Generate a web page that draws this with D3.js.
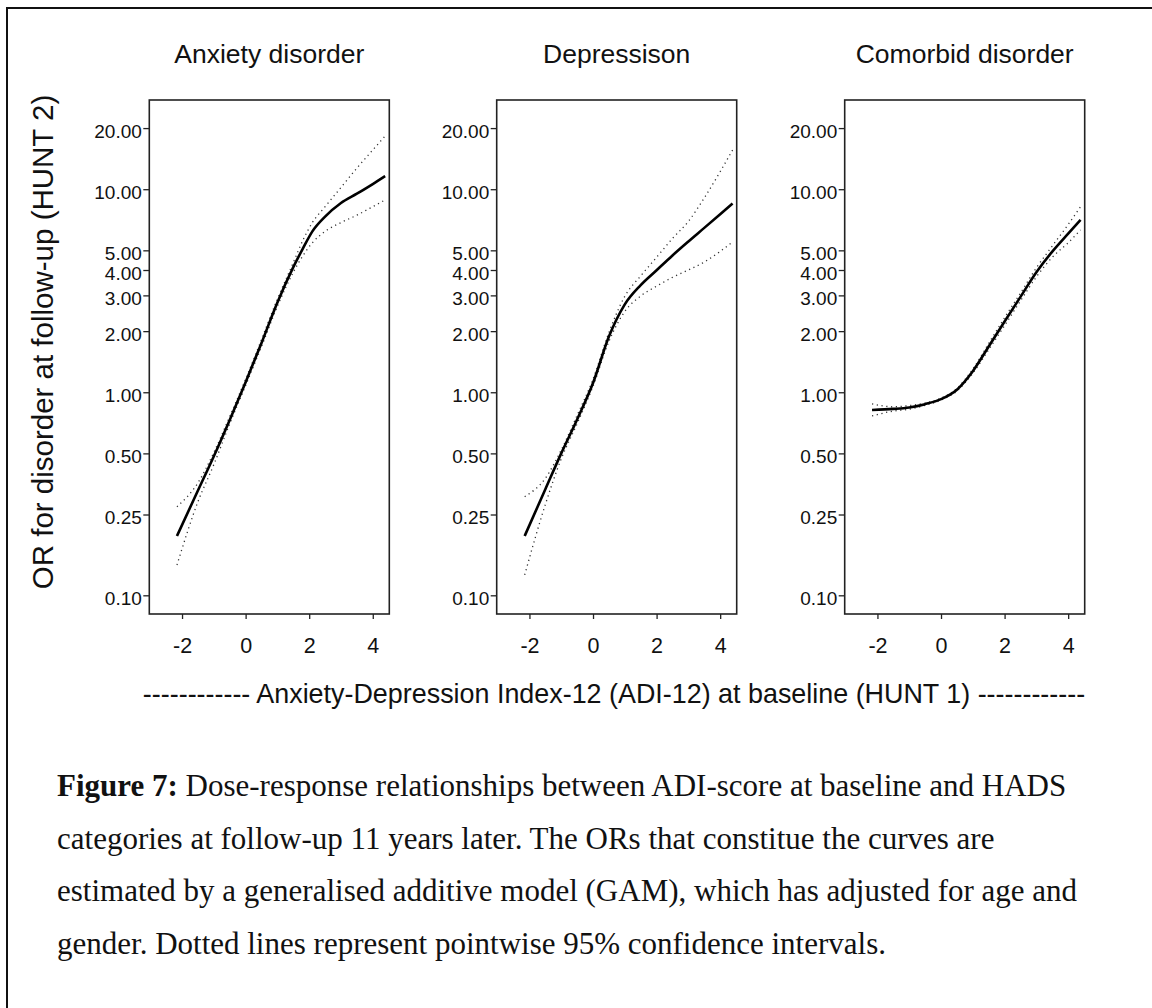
<!DOCTYPE html>
<html>
<head>
<meta charset="utf-8">
<script src="https://cdn.jsdelivr.net/npm/d3@7"></script>
<style>
  html, body { margin: 0; padding: 0; background: #fff; }
  svg { display: block; }
  .sans { font-family: Arial, "Liberation Sans", sans-serif; fill: #111; }
  .serif { font-family: "Times New Roman", "Liberation Serif", serif; fill: #111; }
</style>
</head>
<body>
<svg id="fig" width="1152" height="1008"></svg>
<script>
// Panel titles (spelling as printed)
const panelTitles = ["Anxiety disorder", "Depressison", "Comorbid disorder"];

// Axis ticks
const xTicks = [-2, 0, 2, 4];
const yTicks = [0.10, 0.25, 0.50, 1.00, 2.00, 3.00, 4.00, 5.00, 10.00, 20.00];

// Anxiety disorder: ADI-12 score, OR estimate and pointwise 95% limits
const anxX    = [-2.16, -1.5, -1.0, -0.5, 0.0, 0.5, 1.0, 1.5, 1.8, 2.1, 2.5, 3.0, 3.5, 4.0, 4.39];
const anxFit  = [0.196, 0.328, 0.484, 0.731, 1.12, 1.75, 2.77, 4.13, 5.1, 6.2, 7.33, 8.55, 9.5, 10.6, 11.6];
const anxHigh = [0.273, 0.358, 0.505, 0.76, 1.16, 1.82, 2.88, 4.35, 5.6, 6.85, 8.2, 10.2, 12.7, 15.6, 18.3];
const anxLow  = [0.141, 0.289, 0.44, 0.70, 1.08, 1.68, 2.65, 3.9, 4.7, 5.45, 6.2, 6.85, 7.45, 8.2, 8.86];

// Depression
const depX    = [-2.15, -1.5, -1.0, -0.5, 0.0, 0.5, 1.0, 1.5, 2.0, 2.5, 3.0, 3.5, 4.0, 4.39];
const depFit  = [0.196, 0.333, 0.50, 0.734, 1.11, 1.88, 2.71, 3.37, 3.99, 4.72, 5.53, 6.45, 7.53, 8.5];
const depHigh = [0.306, 0.377, 0.52, 0.77, 1.16, 1.97, 2.97, 3.74, 4.62, 5.72, 6.94, 9.06, 12.2, 15.6];
const depLow  = [0.126, 0.28, 0.47, 0.70, 1.07, 1.78, 2.5, 2.98, 3.33, 3.68, 4.0, 4.38, 4.94, 5.5];

// Comorbid disorder
const comX    = [-2.17, -1.5, -1.0, -0.5, 0.0, 0.5, 1.0, 1.5, 2.0, 2.5, 3.0, 3.5, 4.0, 4.39];
const comFit  = [0.818, 0.828, 0.842, 0.874, 0.925, 1.03, 1.27, 1.68, 2.23, 2.95, 3.9, 4.93, 6.04, 7.06];
const comHigh = [0.876, 0.848, 0.86, 0.885, 0.935, 1.045, 1.30, 1.74, 2.33, 3.08, 4.1, 5.25, 6.7, 8.2];
const comLow  = [0.764, 0.808, 0.825, 0.862, 0.915, 1.015, 1.24, 1.62, 2.13, 2.82, 3.7, 4.62, 5.45, 6.3];

const yLabel = "OR for disorder at follow-up (HUNT 2)";
const xLabel = "------------ Anxiety-Depression Index-12 (ADI-12) at baseline (HUNT 1) ------------";
const captionLead = "Figure 7:";
const captionLines = [
  " Dose-response relationships between ADI-score at baseline and HADS",
  "categories at follow-up 11 years later. The ORs that constitue the curves are",
  "estimated by a generalised additive model (GAM), which has adjusted for age and",
  "gender. Dotted lines represent pointwise 95% confidence intervals."
];

const panels = [
  { title: panelTitles[0], x: anxX, fit: anxFit, hi: anxHigh, lo: anxLow },
  { title: panelTitles[1], x: depX, fit: depFit, hi: depHigh, lo: depLow },
  { title: panelTitles[2], x: comX, fit: comFit, hi: comHigh, lo: comLow }
];

const svg = d3.select("#fig");

// page frame
svg.append("rect")
  .attr("x", 7).attr("y", 8).attr("width", 1170).attr("height", 1020)
  .attr("fill", "none").attr("stroke", "#111").attr("stroke-width", 2);

// panel geometry
const panelLeft = [149.3, 496.7, 844.7];
const panelW = 240, plotTop = 100, plotBottom = 614;

const x = d3.scaleLinear().domain([-3.03, 4.52]).range([0, panelW]);
const y = d3.scaleLog().domain([0.0809, 27.5]).range([plotBottom, plotTop]);

const line = (xs, vs) => d3.line()
  .x((d, i) => x(xs[i]))
  .y(d => y(d))
  .curve(d3.curveMonotoneX)(vs);

panels.forEach((p, k) => {
  const g = svg.append("g").attr("transform", `translate(${panelLeft[k]},0)`);

  // title
  g.append("text").attr("class", "sans")
    .attr("x", panelW / 2).attr("y", 63)
    .attr("text-anchor", "middle")
    .style("font-size", "26.5px")
    .text(p.title);

  // y axis
  const ya = g.append("g")
    .call(d3.axisLeft(y).tickValues(yTicks).tickFormat(d3.format(".2f"))
      .tickSize(6).tickPadding(1.5));
  ya.select(".domain").remove();
  ya.selectAll(".tick line").attr("stroke", "#222").attr("stroke-width", 1.3);
  ya.selectAll(".tick text")
    .attr("class", "sans").attr("dy", "0.49em")
    .style("font-size", "19px").attr("fill", "#111");

  // x axis (plain hyphen for negatives)
  const xa = g.append("g").attr("transform", `translate(0,${plotBottom})`)
    .call(d3.axisBottom(x).tickValues(xTicks).tickFormat(d => String(d))
      .tickSize(5).tickPadding(18.7));
  xa.select(".domain").remove();
  xa.selectAll(".tick line").attr("stroke", "#222").attr("stroke-width", 1.3);
  xa.selectAll(".tick text")
    .attr("class", "sans")
    .style("font-size", "21.5px").attr("fill", "#111");

  // plot box
  g.append("rect")
    .attr("x", 0).attr("y", plotTop).attr("width", panelW).attr("height", plotBottom - plotTop)
    .attr("fill", "none").attr("stroke", "#222").attr("stroke-width", 1.6);

  // confidence limits (dotted)
  [p.hi, p.lo].forEach(vs => {
    g.append("path").attr("d", line(p.x, vs))
      .attr("fill", "none").attr("stroke", "#333")
      .attr("stroke-width", 1.3).attr("stroke-dasharray", "1.2,3.6");
  });

  // OR estimate
  g.append("path").attr("d", line(p.x, p.fit))
    .attr("fill", "none").attr("stroke", "#000")
    .attr("stroke-width", 2.6).attr("stroke-linejoin", "round");
});

// axis titles
svg.append("text").attr("class", "sans")
  .attr("transform", "translate(53,342) rotate(-90)")
  .attr("text-anchor", "middle")
  .style("font-size", "29.5px")
  .text(yLabel);

svg.append("text").attr("class", "sans")
  .attr("x", 614).attr("y", 703)
  .attr("text-anchor", "middle")
  .style("font-size", "26.9px")
  .text(xLabel);

// caption
const cap = svg.append("g").attr("class", "serif").style("font-size", "31px");
const baselines = [796, 848.5, 901, 953.5];
captionLines.forEach((s, i) => {
  const t = cap.append("text").attr("x", 57).attr("y", baselines[i]).attr("xml:space", "preserve");
  if (i === 0) {
    t.append("tspan").attr("font-weight", "bold").text(captionLead);
  }
  t.append("tspan").text(s);
});
</script>
</body>
</html>
